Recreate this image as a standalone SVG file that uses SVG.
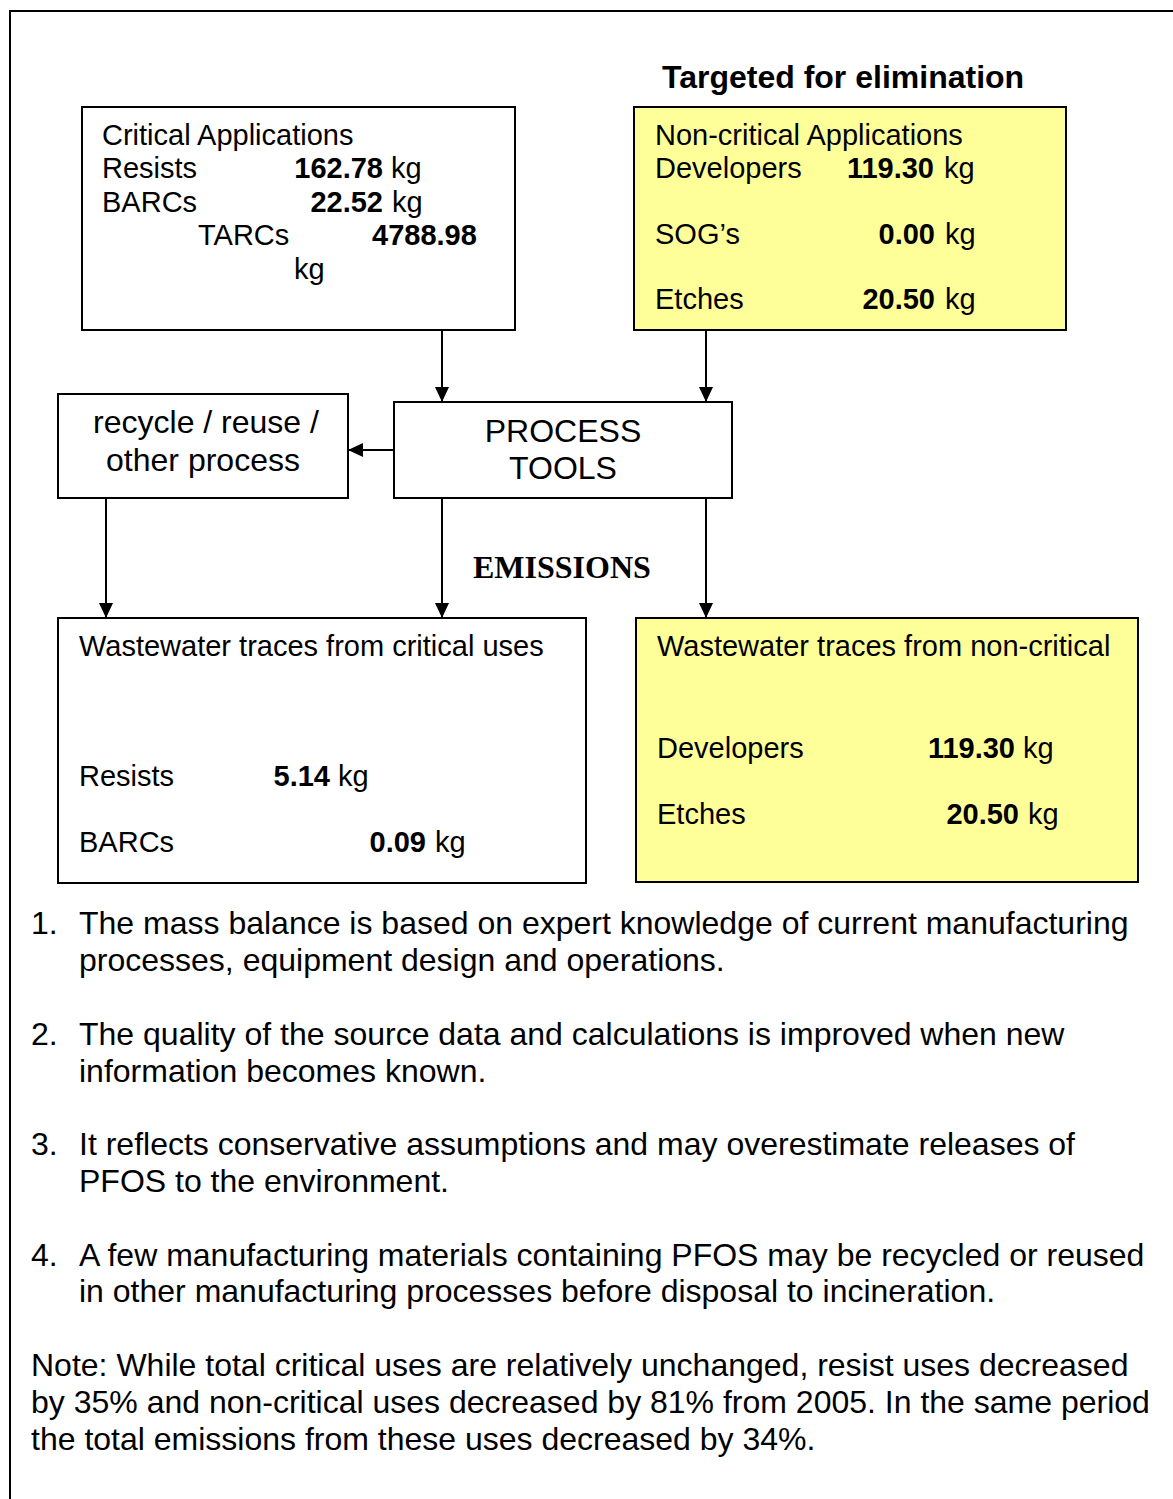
<svg xmlns="http://www.w3.org/2000/svg" width="1173" height="1499" viewBox="0 0 1173 1499">
<defs>
<style>
.box{fill:#ffffff;stroke:#000000;stroke-width:2}
.yel{fill:#ffff99;stroke:#000000;stroke-width:2}
.t{font-family:"Liberation Sans",Arial,sans-serif;font-size:29px;fill:#000000}
.L{font-size:32px}
.b{font-weight:bold}
.c{text-anchor:middle}
.e{text-anchor:end}
.em{font-family:"Liberation Serif","Times New Roman",serif;font-size:32px;font-weight:bold;fill:#000000}
.ln{stroke:#000000;stroke-width:2;fill:none}
</style>
<marker id="ah" markerWidth="16" markerHeight="14" refX="15" refY="7" orient="auto" markerUnits="userSpaceOnUse">
<path d="M0,0 L15,7 L0,14 Z" fill="#000000"/>
</marker>
</defs>
<rect width="1173" height="1499" fill="#ffffff"/>
<path class="ln" d="M10,1499 V11 H1173"/>

<g id="title">
<text class="t b" x="662" y="88" style="font-size:32px">Targeted for elimination</text>
</g>

<g id="critical">
<rect class="box" x="82" y="107" width="433" height="223"/>
<text class="t" x="102" y="145">Critical Applications</text>
<text class="t" x="102" y="178">Resists</text>
<text class="t b e" x="383" y="178">162.78</text>
<text class="t" x="391" y="178">kg</text>
<text class="t" x="102" y="212">BARCs</text>
<text class="t b e" x="383" y="212">22.52</text>
<text class="t" x="392" y="212">kg</text>
<text class="t" x="198" y="245">TARCs</text>
<text class="t b" x="372" y="245">4788.98</text>
<text class="t" x="294" y="279">kg</text>
</g>

<g id="noncritical">
<rect class="yel" x="634" y="107" width="432" height="223"/>
<text class="t" x="655" y="145">Non-critical Applications</text>
<text class="t" x="655" y="178">Developers</text>
<text class="t b e" x="934" y="178">119.30</text>
<text class="t" x="944" y="178">kg</text>
<text class="t" x="655" y="244">SOG’s</text>
<text class="t b e" x="935" y="244">0.00</text>
<text class="t" x="945" y="244">kg</text>
<text class="t" x="655" y="309">Etches</text>
<text class="t b e" x="935" y="309">20.50</text>
<text class="t" x="945" y="309">kg</text>
</g>

<g id="recycle">
<rect class="box" x="58" y="394" width="290" height="104"/>
<text class="t L c" x="206" y="433">recycle / reuse /</text>
<text class="t L c" x="203" y="471">other process</text>
</g>

<g id="process">
<rect class="box" x="394" y="402" width="338" height="96"/>
<text class="t L c" x="563" y="442">PROCESS</text>
<text class="t L c" x="563" y="479">TOOLS</text>
</g>

<g id="emissions">
<text class="em" x="473" y="578">EMISSIONS</text>
</g>

<g id="ww-critical">
<rect class="box" x="58" y="618" width="528" height="265"/>
<text class="t" x="79" y="656">Wastewater traces from critical uses</text>
<text class="t" x="79" y="786">Resists</text>
<text class="t b e" x="330" y="786">5.14</text>
<text class="t" x="338" y="786">kg</text>
<text class="t" x="79" y="852">BARCs</text>
<text class="t b e" x="426" y="852">0.09</text>
<text class="t" x="435" y="852">kg</text>
</g>

<g id="ww-noncritical">
<rect class="yel" x="636" y="618" width="502" height="264"/>
<text class="t" x="657" y="656">Wastewater traces from non-critical</text>
<text class="t" x="657" y="758">Developers</text>
<text class="t b e" x="1015" y="758">119.30</text>
<text class="t" x="1023" y="758">kg</text>
<text class="t" x="657" y="824">Etches</text>
<text class="t b e" x="1019" y="824">20.50</text>
<text class="t" x="1028" y="824">kg</text>
</g>

<g id="connectors">
<line class="ln" x1="442" y1="330" x2="442" y2="402" marker-end="url(#ah)"/>
<line class="ln" x1="706" y1="330" x2="706" y2="402" marker-end="url(#ah)"/>
<line class="ln" x1="394" y1="450" x2="348" y2="450" marker-end="url(#ah)"/>
<line class="ln" x1="106" y1="498" x2="106" y2="618" marker-end="url(#ah)"/>
<line class="ln" x1="442" y1="498" x2="442" y2="618" marker-end="url(#ah)"/>
<line class="ln" x1="706" y1="498" x2="706" y2="618" marker-end="url(#ah)"/>
</g>

<g id="notes">
<text class="t L" x="31" y="934">1.</text>
<text class="t L" x="79" y="934">The mass balance is based on expert knowledge of current manufacturing</text>
<text class="t L" x="79" y="971">processes, equipment design and operations.</text>
<text class="t L" x="31" y="1045">2.</text>
<text class="t L" x="79" y="1045">The quality of the source data and calculations is improved when new</text>
<text class="t L" x="79" y="1082">information becomes known.</text>
<text class="t L" x="31" y="1155">3.</text>
<text class="t L" x="79" y="1155">It reflects conservative assumptions and may overestimate releases of</text>
<text class="t L" x="79" y="1192">PFOS to the environment.</text>
<text class="t L" x="31" y="1266">4.</text>
<text class="t L" x="79" y="1266">A few manufacturing materials containing PFOS may be recycled or reused</text>
<text class="t L" x="79" y="1302">in other manufacturing processes before disposal to incineration.</text>
<text class="t L" x="31" y="1376">Note: While total critical uses are relatively unchanged, resist uses decreased</text>
<text class="t L" x="31" y="1413">by 35% and non-critical uses decreased by 81% from 2005. In the same period</text>
<text class="t L" x="31" y="1450">the total emissions from these uses decreased by 34%.</text>
</g>
</svg>
